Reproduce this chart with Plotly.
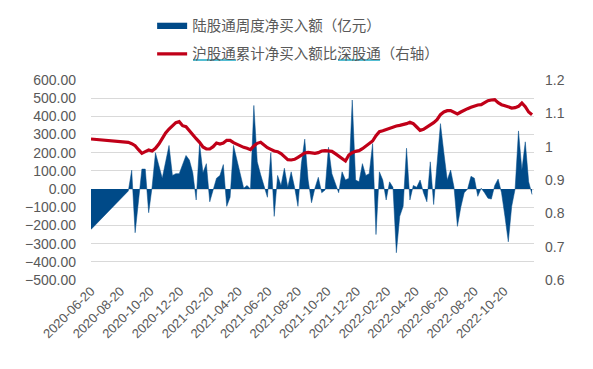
import pandas as pd
import plotly.graph_objects as go

# ---- data ----
first_date = "2020-06-20"
first_flow = -222
first_ratio = 1.023
week_start = "2020-09-05"

weekly_flow = [
    -10, 104, -240, -65, 110, 110, -130, 10, 200, 130,
    60, 150, 240, 75, 85, 85, 130, 185, 160, 90,
    -60, 250, 90, 140, -70, 0, 60, 75, 135, -95,
    -45, 240, 160, 80, 5, 20, 0, 460, 150, 80,
    20, -45, 200, -150, 75, 20, 115, 10, 95, 10,
    -95, 140, 275, 50, -75, 5, 65, -20, -5, 230,
    85, 30, -20, 95, 50, 60, 490, 50, 40, 140,
    75, 85, 250, -250, 95, 50, -60, 40, 10, -350,
    -150, -95, 225, -60, 20, 10, 50, -20, -70, 150,
    -85, 140, 360, 200, 50, 105, 10, -205, -100, -20,
    0, 70, 60, -40, 5, -20, -50, -55, 20, 55,
    -20, -150, -290, -95, 0, 320, 105, 260, 40, -30,
]

weekly_ratio = [
    1.013, 1.009, 1.003, 0.991, 0.980, 0.985, 0.990, 0.987, 0.995, 1.008,
    1.027, 1.041, 1.053, 1.064, 1.072, 1.075, 1.063, 1.060, 1.047, 1.035,
    1.024, 1.013, 0.999, 0.993, 0.993, 1.000, 1.011, 1.008, 1.011, 1.019,
    1.019, 1.012, 1.007, 1.002, 0.998, 0.995, 0.991, 1.002, 1.010, 1.013,
    1.004, 0.997, 0.992, 0.987, 0.985, 0.979, 0.970, 0.961, 0.960, 0.962,
    0.968, 0.975, 0.981, 0.983, 0.981, 0.980, 0.982, 0.987, 0.988, 0.988,
    0.986, 0.979, 0.971, 0.962, 0.957, 0.975, 0.982, 0.986, 0.988, 0.994,
    1.002, 1.012, 1.017, 1.033, 1.045, 1.048, 1.052, 1.055, 1.058, 1.062,
    1.064, 1.066, 1.069, 1.073, 1.069, 1.059, 1.049, 1.052, 1.058, 1.066,
    1.072, 1.081, 1.096, 1.104, 1.108, 1.108, 1.103, 1.098, 1.104, 1.110,
    1.114, 1.118, 1.122, 1.125, 1.126, 1.133, 1.138, 1.140, 1.141, 1.132,
    1.126, 1.123, 1.119, 1.116, 1.117, 1.121, 1.131, 1.120, 1.104, 1.096,
]

x_ticks = ["2020-06-20", "2020-08-20", "2020-10-20", "2020-12-20", "2021-02-20",
           "2021-04-20", "2021-06-20", "2021-08-20", "2021-10-20", "2021-12-20",
           "2022-02-20", "2022-04-20", "2022-06-20", "2022-08-20", "2022-10-20"]
left_ticks = [600, 500, 400, 300, 200, 100, 0, -100, -200, -300, -400, -500]
right_ticks = [1.2, 1.1, 1.0, 0.9, 0.8, 0.7, 0.6]
right_tick_text = ["1.2", "1.1", "1", "0.9", "0.8", "0.7", "0.6"]

name_flow = "陆股通周度净买入额（亿元）"
name_ratio = "沪股通累计净买入额比深股通（右轴）"

# ---- build ----
dates = [pd.Timestamp(first_date)] + list(pd.date_range(week_start, periods=len(weekly_flow), freq="7D"))
flow = [first_flow] + weekly_flow
ratio = [first_ratio] + weekly_ratio

BLUE = "#004A88"
RED = "#C00018"
GRAY = "#595959"
GRID = "#D9D9D9"
FONT = "Liberation Sans, Arial, Noto Sans CJK SC, sans-serif"
CJK = "Noto Sans CJK SC, sans-serif"

fig = go.Figure()
fig.add_trace(go.Scatter(
    x=dates, y=flow, name=name_flow, mode="lines", legendgroup="a",
    line=dict(color=BLUE, width=0.5), fill="tozeroy", fillcolor=BLUE,
    yaxis="y"))
fig.add_trace(go.Scatter(
    x=dates, y=ratio, name=name_ratio, mode="lines", legendgroup="b",
    line=dict(color=RED, width=3.2), yaxis="y2"))

# page has an 8px body margin; plot area spans page x 91..534, y 80..280
fig.update_layout(
    width=593, height=369,
    margin=dict(l=83, r=67, t=72, b=97, autoexpand=False),
    paper_bgcolor="white", plot_bgcolor="white",
    font=dict(family=FONT, size=14, color=GRAY),
    showlegend=True,
    legend=dict(
        x=0.138, y=1.355, xanchor="left", yanchor="top",
        orientation="v", bgcolor="rgba(0,0,0,0)",
        font=dict(family=CJK, size=14.5, color=GRAY),
        itemwidth=30, traceorder="grouped", tracegroupgap=7,
    ),
    xaxis=dict(
        type="date", range=["2020-06-20", "2022-12-21"],
        tickvals=x_ticks, ticktext=x_ticks, tickangle=-45,
        tickfont=dict(size=13, color=GRAY),
        showgrid=False, zeroline=False, showline=False, ticks="",
    ),
    yaxis=dict(
        range=[-500, 600], tickvals=left_ticks, tickformat=".2f",
        showgrid=True, gridcolor=GRID, gridwidth=1,
        zeroline=True, zerolinecolor=GRID, zerolinewidth=1,
        ticks="", ticklabelstandoff=14,
        tickfont=dict(size=14, color=GRAY), showline=False,
    ),
    yaxis2=dict(
        range=[0.6, 1.2], overlaying="y", side="right",
        tickvals=right_ticks, ticktext=right_tick_text,
        showgrid=False, zeroline=False, ticks="", ticklabelstandoff=10,
        tickfont=dict(size=14, color=GRAY), showline=False,
    ),
)

# spell-check style underlines in the legend text (page px -> paper coords)
for x0, x1 in [(193, 236), (338, 380)]:
    fig.add_shape(type="line", xref="paper", yref="paper",
                  x0=(x0 - 91) / 443, x1=(x1 - 91) / 443,
                  y0=(280 - 60) / 200, y1=(280 - 60) / 200,
                  line=dict(color="#1BA8C4", width=1.5))

fig.write_html("out.html")
